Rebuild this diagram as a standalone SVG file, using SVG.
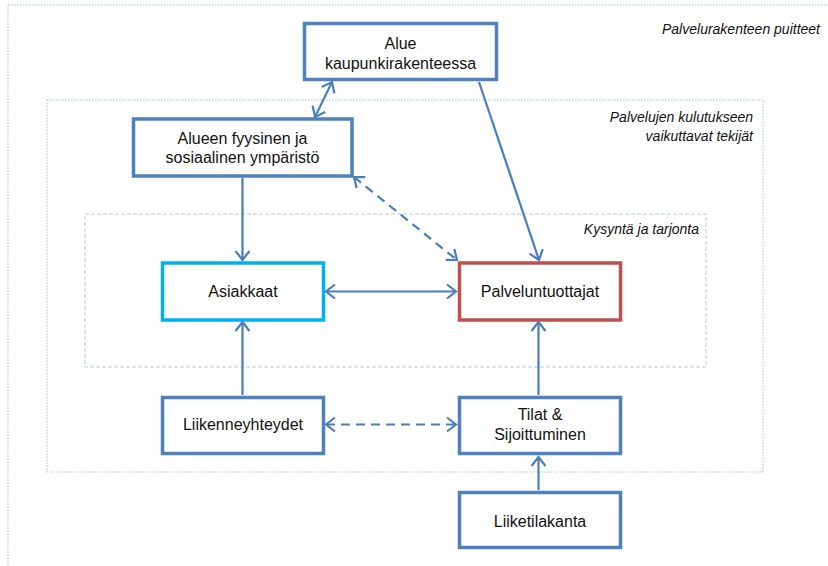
<svg xmlns="http://www.w3.org/2000/svg" width="828" height="566" viewBox="0 0 828 566">
<style>
.frame{fill:none;stroke:#9fc0e4;stroke-width:1}
.dot{stroke-dasharray:1.5 1.5}
.dash{stroke-dasharray:4 2;stroke:#b4cbe9}
.box{fill:#fff;stroke:#4f81bd;stroke-width:3.5}
.t{font-family:"Liberation Sans",Arial,sans-serif;font-size:16px;fill:#111;text-anchor:middle}
.lab{font-family:"Liberation Sans",Arial,sans-serif;font-size:14px;font-style:italic;fill:#111;text-anchor:end}
.c{fill:none;stroke:#4a7ebb;stroke-width:2.2}
.d{stroke-dasharray:9 6}
</style>
<defs>
<marker id="ah" markerUnits="userSpaceOnUse" markerWidth="14" markerHeight="18" viewBox="0 0 14 18" refX="11" refY="9" orient="auto-start-reverse">
<path d="M2,2 L11,9 L2,16" fill="none" stroke="#4a7ebb" stroke-width="2.2"/>
</marker>
</defs>
<rect class="frame dot" x="8" y="5" width="840" height="580"/>
<rect class="frame dot" x="47" y="100" width="716" height="372"/>
<rect class="frame dash" x="85" y="214" width="621" height="153"/>
<text class="lab" x="820" y="34">Palvelurakenteen puitteet</text>
<text class="lab" x="753" y="121.5">Palvelujen kulutukseen</text>
<text class="lab" x="753" y="140.5">vaikuttavat tekijät</text>
<text class="lab" x="699" y="234">Kysyntä ja tarjonta</text>
<g id="connectors">
<line class="c" x1="332" y1="82" x2="315" y2="117" marker-start="url(#ah)" marker-end="url(#ah)"/>
<line class="c" x1="479" y1="82" x2="539" y2="260" marker-end="url(#ah)"/>
<line class="c" x1="242.5" y1="178" x2="242.5" y2="260" marker-end="url(#ah)"/>
<line class="c d" x1="354" y1="177" x2="457" y2="260" marker-start="url(#ah)" marker-end="url(#ah)"/>
<line class="c" x1="326" y1="291.5" x2="456" y2="291.5" marker-start="url(#ah)" marker-end="url(#ah)"/>
<line class="c" x1="242.5" y1="395" x2="242.5" y2="322" marker-end="url(#ah)"/>
<line class="c" x1="538.5" y1="395" x2="538.5" y2="322" marker-end="url(#ah)"/>
<line class="c d" x1="326" y1="424.5" x2="456" y2="424.5" marker-start="url(#ah)" marker-end="url(#ah)"/>
<line class="c" x1="538.5" y1="490" x2="538.5" y2="457" marker-end="url(#ah)"/>
</g>
<g id="alue">
<rect class="box" x="304.5" y="23.5" width="192" height="56"/>
<text class="t" x="400.5" y="49">Alue</text>
<text class="t" x="400.5" y="69">kaupunkirakenteessa</text>
</g>
<g id="alueen">
<rect class="box" x="133.5" y="119" width="218.5" height="57"/>
<text class="t" x="242.5" y="144">Alueen fyysinen ja</text>
<text class="t" x="242.5" y="163">sosiaalinen ympäristö</text>
</g>
<g id="asiakkaat">
<rect class="box" x="162.5" y="263" width="161" height="57" style="stroke:#00b0f0"/>
<text class="t" x="243" y="297">Asiakkaat</text>
</g>
<g id="palveluntuottajat">
<rect class="box" x="459.5" y="263" width="161" height="57" style="stroke:#c0504d"/>
<text class="t" x="540" y="297">Palveluntuottajat</text>
</g>
<g id="liikenne">
<rect class="box" x="162.5" y="397.5" width="161" height="56"/>
<text class="t" x="243" y="430">Liikenneyhteydet</text>
</g>
<g id="tilat">
<rect class="box" x="459.5" y="397.5" width="161" height="56"/>
<text class="t" x="540" y="420">Tilat &amp;</text>
<text class="t" x="540" y="440">Sijoittuminen</text>
</g>
<g id="liiketilakanta">
<rect class="box" x="459.5" y="492.5" width="161" height="55"/>
<text class="t" x="540" y="527">Liiketilakanta</text>
</g>
</svg>
